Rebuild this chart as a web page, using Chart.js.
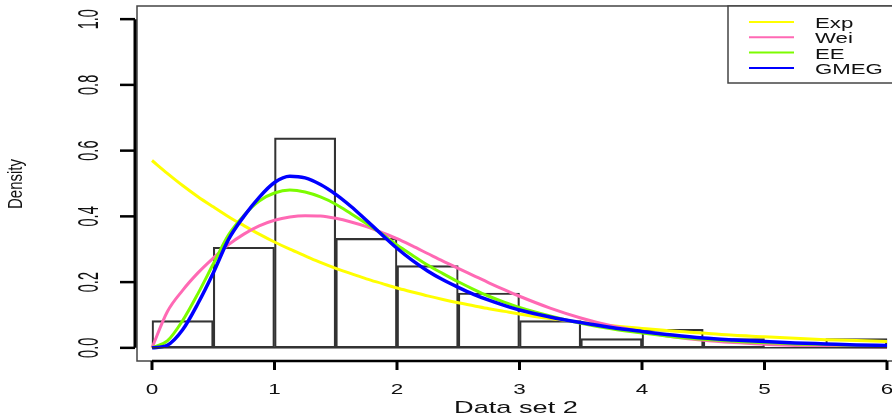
<!DOCTYPE html>
<html>
<head>
<meta charset="utf-8">
<script src="https://cdn.jsdelivr.net/npm/chart.js@4.4.1/dist/chart.umd.min.js"></script>
<style>
  html, body { margin: 0; padding: 0; background: #fff; overflow: hidden; }
  #wrap { width: 892px; height: 419px; overflow: hidden; }
</style>
</head>
<body>
<div id="wrap"><canvas id="myChart" width="900" height="419"></canvas></div>
<script>
// histogram (bin width 0.5) and fitted densities
const binMids = [0.25, 0.75, 1.25, 1.75, 2.25, 2.75, 3.25, 3.75, 4.25, 4.75, 5.25, 5.75];
const binDensity = [0.083, 0.306, 0.639, 0.333, 0.250, 0.167, 0.083, 0.028, 0.056, 0.028, 0, 0.028];

const xs = [0, 0.125, 0.25, 0.375, 0.5, 0.625, 0.75, 0.875, 1, 1.125, 1.25, 1.375, 1.5, 1.625, 1.75, 1.875,
            2, 2.125, 2.25, 2.375, 2.5, 2.625, 2.75, 2.875, 3, 3.25, 3.5, 3.75, 4, 4.25, 4.5, 4.75, 5, 5.25, 5.5, 5.75, 6];
const expD  = [0.570, 0.531, 0.494, 0.460, 0.429, 0.399, 0.372, 0.346, 0.322, 0.300, 0.280, 0.260, 0.242, 0.226, 0.210, 0.196,
               0.182, 0.170, 0.158, 0.147, 0.137, 0.128, 0.119, 0.111, 0.103, 0.089, 0.078, 0.067, 0.059, 0.051, 0.045, 0.038, 0.034, 0.029, 0.025, 0.022, 0.019];
const weiD  = [0, 0.110, 0.175, 0.228, 0.273, 0.314, 0.346, 0.371, 0.388, 0.398, 0.402, 0.401, 0.394, 0.383, 0.369, 0.351,
               0.332, 0.310, 0.287, 0.264, 0.242, 0.220, 0.198, 0.177, 0.157, 0.121, 0.091, 0.067, 0.049, 0.034, 0.023, 0.016, 0.011, 0.007, 0.005, 0.003, 0.002];
const eeD   = [0, 0.021, 0.083, 0.165, 0.255, 0.344, 0.403, 0.447, 0.471, 0.480, 0.474, 0.459, 0.437, 0.408, 0.378, 0.347,
               0.313, 0.282, 0.252, 0.226, 0.201, 0.178, 0.157, 0.139, 0.123, 0.097, 0.075, 0.058, 0.045, 0.034, 0.026, 0.020, 0.016, 0.012, 0.010, 0.008, 0.006];
const gmegD = [0, 0.008, 0.055, 0.135, 0.228, 0.330, 0.400, 0.458, 0.503, 0.522, 0.517, 0.497, 0.467, 0.430, 0.388, 0.345,
               0.303, 0.266, 0.234, 0.207, 0.184, 0.163, 0.145, 0.129, 0.115, 0.094, 0.077, 0.062, 0.050, 0.039, 0.030, 0.024, 0.019, 0.015, 0.012, 0.009, 0.007];

const xTicks = [0, 1, 2, 3, 4, 5, 6];
const yTicks = [0, 0.2, 0.4, 0.6, 0.8, 1.0];
const yTickLabels = ["0.0", "0.2", "0.4", "0.6", "0.8", "1.0"];
const xTitle = "Data set 2";
const yTitle = "Density";

function pts(ys) {
  return xs.map((x, i) => ({ x: x, y: ys[i] }));
}

function curve(label, ys, color, width, order) {
  return {
    type: "line",
    label: label,
    data: pts(ys),
    borderColor: color,
    borderWidth: width,
    pointRadius: 0,
    fill: false,
    cubicInterpolationMode: "monotone",
    order: order,
  };
}

// draw text, optionally rotated, stretched horizontally like the original
function txt(ctx, s, x, y, size, sx, rot, align) {
  ctx.save();
  ctx.translate(x, y);
  ctx.scale(sx, 1);
  if (rot) ctx.rotate(rot);
  ctx.font = size + "px 'Liberation Sans', Arial, sans-serif";
  ctx.fillStyle = "#111";
  ctx.textAlign = align || "center";
  ctx.textBaseline = "alphabetic";
  ctx.fillText(s, 0, 0);
  ctx.restore();
}

const rStyle = {
  id: "rStyle",
  afterDraw(chart) {
    const ctx = chart.ctx;
    const a = chart.chartArea;
    const xS = chart.scales.x, yS = chart.scales.y;
    ctx.save();

    // histogram base line
    ctx.strokeStyle = "#333";
    ctx.lineWidth = 1.5;
    ctx.beginPath();
    ctx.moveTo(xS.getPixelForValue(0), yS.getPixelForValue(0));
    ctx.lineTo(xS.getPixelForValue(6), yS.getPixelForValue(0));
    ctx.stroke();

    // plot box
    ctx.strokeStyle = "#444";
    ctx.lineWidth = 1.5;
    ctx.strokeRect(a.left, a.top, a.right - a.left + 10, a.bottom - a.top);

    // y axis
    const yx = a.left - 2;
    ctx.strokeStyle = "#000";
    ctx.lineWidth = 3;
    ctx.beginPath();
    ctx.moveTo(yx, yS.getPixelForValue(yTicks[0]));
    ctx.lineTo(yx, yS.getPixelForValue(yTicks[yTicks.length - 1]));
    ctx.stroke();
    ctx.lineWidth = 2.5;
    yTicks.forEach((v, i) => {
      const py = yS.getPixelForValue(v);
      ctx.beginPath();
      ctx.moveTo(yx, py);
      ctx.lineTo(yx - 15, py);
      ctx.stroke();
      txt(ctx, yTickLabels[i], 98, py, 14.5, 2.0, -Math.PI / 2);
    });

    // x axis
    const xy = a.bottom;
    ctx.lineWidth = 2.5;
    ctx.beginPath();
    ctx.moveTo(xS.getPixelForValue(xTicks[0]), xy);
    ctx.lineTo(xS.getPixelForValue(xTicks[xTicks.length - 1]), xy);
    ctx.stroke();
    ctx.lineWidth = 3;
    xTicks.forEach(v => {
      const px = xS.getPixelForValue(v);
      ctx.beginPath();
      ctx.moveTo(px, xy);
      ctx.lineTo(px, xy + 9);
      ctx.stroke();
      txt(ctx, String(v), px, 394, 15, 1.5, 0);
    });

    // axis titles
    txt(ctx, xTitle, 516, 413, 17, 1.6, 0);
    txt(ctx, yTitle, 22, 184, 15, 1.35, -Math.PI / 2);

    // legend
    const lx = 728, ly = a.top, lh = 83 - a.top;
    ctx.fillStyle = "#fff";
    ctx.fillRect(lx, ly, 200, lh);
    ctx.strokeStyle = "#444";
    ctx.lineWidth = 1.5;
    ctx.strokeRect(lx, ly, 200, lh);
    const curves = chart.data.datasets.filter(d => d.type === "line");
    curves.forEach((d, i) => {
      const base = 28 + i * 15.3;
      ctx.strokeStyle = d.borderColor;
      ctx.lineWidth = 2;
      ctx.beginPath();
      ctx.moveTo(749, base - 6);
      ctx.lineTo(794, base - 6);
      ctx.stroke();
      txt(ctx, d.label, 815, base, 15, 1.48, 0, "left");
    });

    ctx.restore();
  }
};

const ctx2 = document.getElementById("myChart").getContext("2d");
const myChart = new Chart(ctx2, {
  type: "line",
  data: {
    datasets: [
      {
        type: "bar",
        label: "hist",
        data: binMids.map((m, i) => ({ x: m, y: binDensity[i] })),
        backgroundColor: "rgba(0,0,0,0)",
        borderColor: "#333",
        borderWidth: 1.5,
        borderSkipped: false,
        barPercentage: 1,
        categoryPercentage: 1,
        order: 5,
      },
      curve("Exp", expD, "#FFFF00", 3, 4),
      curve("Wei", weiD, "#FF69B4", 3, 3),
      curve("EE", eeD, "#7CFC00", 3, 2),
      curve("GMEG", gmegD, "#0000FF", 3.5, 1),
    ],
  },
  options: {
    responsive: false,
    animation: false,
    layout: {
      padding: { left: 137, top: 6, right: 1, bottom: 58 },
    },
    plugins: {
      legend: { display: false },
      tooltip: { enabled: false },
    },
    scales: {
      x: {
        type: "linear",
        min: -0.1224,
        max: 6.098,
        offset: false,
        display: false,
      },
      y: {
        type: "linear",
        min: -0.04,
        max: 1.04,
        display: false,
      },
    },
  },
  plugins: [rStyle],
});
</script>
</body>
</html>
